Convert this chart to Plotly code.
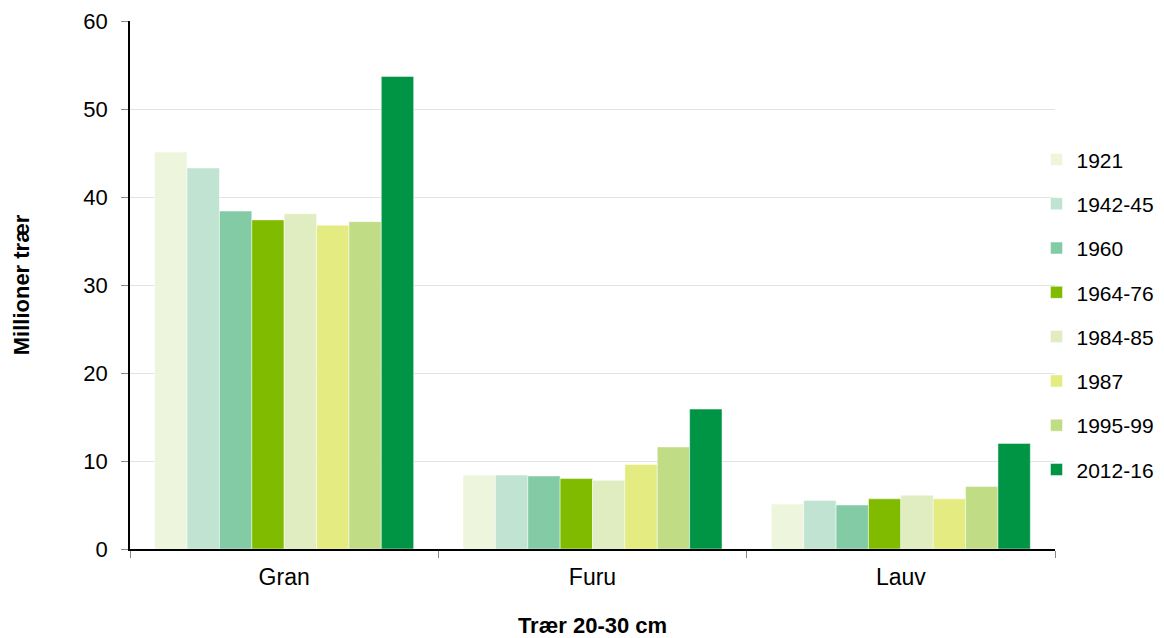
import plotly.graph_objects as go

categories = ["Gran", "Furu", "Lauv"]
periods = ["1921", "1942-45", "1960", "1964-76", "1984-85", "1987", "1995-99", "2012-16"]

v_1921 = [45.1, 8.4, 5.1]
v_1942_45 = [43.3, 8.4, 5.5]
v_1960 = [38.4, 8.3, 5.0]
v_1964_76 = [37.4, 8.0, 5.7]
v_1984_85 = [38.1, 7.8, 6.1]
v_1987 = [36.8, 9.6, 5.7]
v_1995_99 = [37.2, 11.6, 7.1]
v_2012_16 = [53.7, 15.9, 12.0]

series = [v_1921, v_1942_45, v_1960, v_1964_76, v_1984_85, v_1987, v_1995_99, v_2012_16]
colors = ["#EDF5DD", "#C0E4D1", "#83CBA5", "#80BB00", "#DFEDC1", "#E4EB80", "#C0DD85", "#009545"]

fig = go.Figure()
for name, vals, col in zip(periods, series, colors):
    fig.add_trace(go.Bar(
        x=categories, y=vals, name=name, legendgroup=name,
        marker=dict(color=col, line=dict(color="rgba(255,255,255,0.6)", width=0.8)),
    ))

font_family = "Liberation Sans, Arial, sans-serif"

fig.update_layout(
    width=1164, height=638,
    barmode="group", bargap=0.16, bargroupgap=0,
    plot_bgcolor="white", paper_bgcolor="white",
    margin=dict(l=130, r=109, t=21, b=89, autoexpand=False),
    font=dict(family=font_family, size=21, color="#000000"),
    legend=dict(
        x=0.98, xanchor="left", y=0.776, yanchor="top",
        font=dict(size=21), tracegroupgap=14,
        itemwidth=30, bgcolor="rgba(0,0,0,0)",
    ),
    xaxis=dict(
        showline=True, linecolor="#000000", linewidth=1.5,
        ticks="outside", tickson="boundaries", ticklen=7, tickcolor="#888888",
        tickfont=dict(size=23), ticklabelstandoff=7,
        title=dict(text="<b>Trær 20-30 cm</b>", font=dict(size=22), standoff=28),
    ),
    yaxis=dict(
        range=[0, 60], dtick=10,
        showline=True, linecolor="#000000", linewidth=1.5,
        ticks="outside", ticklen=7, tickcolor="#888888",
        showgrid=True, gridcolor="#E3E3E3", gridwidth=1,
        tickfont=dict(size=22), ticklabelstandoff=9,
        title=dict(text="<b>Millioner trær</b>", font=dict(size=22), standoff=48),
        zeroline=False,
    ),
)

fig.write_html("out.html")
